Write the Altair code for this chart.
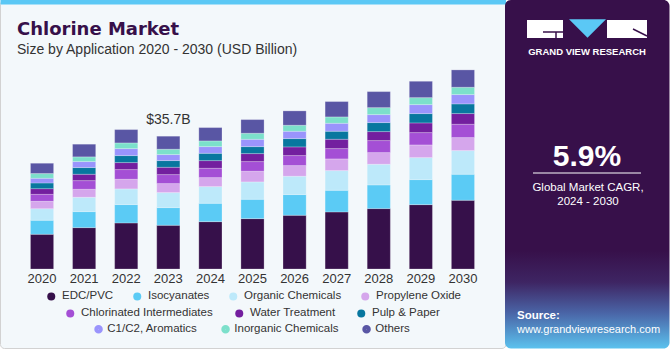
import altair as alt
import pandas as pd

# ---------------- data ----------------
years = ["2020", "2021", "2022", "2023", "2024", "2025", "2026", "2027", "2028", "2029", "2030"]
categories = ["EDC/PVC", "Isocyanates", "Organic Chemicals", "Propylene Oxide",
              "Chlorinated Intermediates", "Water Treatment", "Pulp & Paper",
              "C1/C2, Aromatics", "Inorganic Chemicals", "Others"]
colors = ["#36104A", "#5BCBF5", "#BDE9FA", "#D5A6EC", "#A44FD5",
          "#731F9F", "#08779F", "#9A94FC", "#7CE0CB", "#5956A4"]

edc_pvc = [9.33, 11.13, 12.39, 11.76, 12.74, 13.55, 14.45, 15.35, 16.25, 17.32, 18.49]
isocyanates = [3.77, 4.31, 4.94, 4.76, 4.94, 5.21, 5.57, 5.83, 6.37, 6.73, 7.00]
organic = [3.14, 3.86, 4.22, 4.04, 4.49, 4.67, 4.94, 5.30, 5.56, 5.92, 6.37]
propylene = [1.97, 2.15, 2.60, 2.42, 2.42, 2.87, 2.87, 3.14, 3.14, 3.41, 3.50]
chlorinated = [1.88, 2.33, 2.60, 2.42, 2.51, 2.60, 2.69, 2.78, 3.23, 3.32, 3.59]
water = [1.53, 1.71, 1.88, 1.97, 2.06, 2.15, 2.33, 2.51, 2.42, 2.60, 2.87]
pulp = [1.53, 1.80, 1.88, 1.80, 1.97, 1.88, 2.24, 2.15, 2.42, 2.51, 2.60]
c1c2 = [1.26, 1.62, 1.88, 1.62, 1.80, 1.97, 1.97, 2.15, 2.15, 2.42, 2.51]
inorganic = [1.26, 1.26, 1.53, 1.44, 1.53, 1.62, 1.62, 1.71, 1.88, 1.88, 1.97]
others = [2.78, 3.41, 3.59, 3.50, 3.59, 3.68, 3.86, 4.13, 4.31, 4.40, 4.67]

series = [edc_pvc, isocyanates, organic, propylene, chlorinated, water, pulp, c1c2, inorganic, others]

label_year = "2023"
label_value = 35.7
label_text = "$35.7B"

legend_row1 = categories[0:4]
legend_row2 = categories[4:7]
legend_row3 = categories[7:10]

rows = []
for i, (cat, vals) in enumerate(zip(categories, series)):
    for y, v in zip(years, vals):
        rows.append({"year": y, "cat": cat, "cat2": cat, "cat3": cat, "value": v, "idx": i})
df = pd.DataFrame(rows)
label_df = pd.DataFrame({"year": [label_year], "total": [label_value], "label": [label_text]})
one = pd.DataFrame({"k": [0]})

# ---------------- layout helpers ----------------
OX, OY = 21, 46          # plot origin in page pixels
W, H = 463, 223
FONT = "Liberation Sans"


def px(x):
    return alt.value(x - OX)


def py(y):
    return alt.value(y - OY)


def rect(x1, y1, x2, y2, **kw):
    return alt.Chart(one).mark_rect(**kw).encode(x=px(x1), x2=px(x2), y=py(y1), y2=py(y2))


def txt(s, x, y, size, color, weight="normal", align="left", font=FONT):
    return alt.Chart(one).mark_text(text=s, fontSize=size, color=color, fontWeight=weight,
                                    align=align, baseline="alphabetic", font=font
                                    ).encode(x=px(x), y=py(y))


def rule(x1, y1, x2, y2, color, width=1):
    return alt.Chart(one).mark_rule(color=color, strokeWidth=width).encode(
        x=px(x1), x2=px(x2), y=py(y1), y2=py(y2))


cscale = alt.Scale(domain=categories, range=colors)
leg_common = dict(orient="none", direction="horizontal", title=None, symbolType="circle",
                  labelFont=FONT, labelFontSize=11.5, labelColor="#333333", padding=0)

# ---------------- background decorations ----------------
left_panel = rect(0.5, 0.5, 506, 348.5, fill="#F3F8FB", stroke="#D2D2D2", strokeWidth=1, cornerRadius=4)
top_strip = rect(0.5, 0, 506, 4.5, fill="#5BC8F5")
right_panel = rect(505, 0, 669.5, 348.5, cornerRadius=6, fill=alt.Gradient(
    gradient="linear", x1=0, y1=0, x2=0, y2=1,
    stops=[alt.GradientStop(offset=0, color="#37104A"),
           alt.GradientStop(offset=0.72, color="#37104A"),
           alt.GradientStop(offset=0.81, color="#3E2563"),
           alt.GradientStop(offset=0.9, color="#4A66A8"),
           alt.GradientStop(offset=1, color="#5BC2EE")]))

# logo
logo_g = rect(527, 20, 563, 38, fill="white")
logo_r = rect(607, 20, 647, 38, fill="white")
logo_g_notch1 = rule(543, 32, 563, 32, "#37104A", 1.5)
logo_g_notch2 = rule(556, 32, 556, 38, "#37104A", 1.5)
logo_r_diag = rule(633, 29, 647, 36, "#37104A", 1.5)
logo_tri = alt.Chart(one).mark_point(shape="M-1,-0.5L1,-0.5L0,0.5Z", filled=True, size=1369,
                                     color="#5BC8F5", opacity=1).encode(x=px(587.5), y=py(28.5))
logo_text = txt("GRAND VIEW RESEARCH", 587, 55, 9.5, "white", "bold", "center")

cagr = txt("5.9%", 587, 166, 30, "white", "bold", "center")
cagr_rule = rule(533, 173, 641, 173, "white", 1)
cagr_t1 = txt("Global Market CAGR,", 588, 191, 11.5, "white", "normal", "center")
cagr_t2 = txt("2024 - 2030", 588, 205, 11.5, "white", "normal", "center")
src1 = txt("Source:", 517, 319, 11.5, "white", "bold")
src2 = txt("www.grandviewresearch.com", 517, 333, 11, "white")

title = txt("Chlorine Market", 17, 35, 18, "#37104A", "bold", font="DejaVu Sans")
subtitle = txt("Size by Application 2020 - 2030 (USD Billion)", 17, 54, 14, "#333333")

# ---------------- bars ----------------
xenc = alt.X("year:O", sort=years, title=None,
             scale=alt.Scale(paddingInner=0.45, paddingOuter=0.225),
             axis=alt.Axis(labelAngle=0, domain=False, ticks=False, grid=False, zindex=1,
                           labelFont=FONT, labelFontSize=13, labelColor="#333333", labelPadding=3))
yenc_scale = alt.Scale(domain=[0, 60])

bars = alt.Chart(df).mark_bar(stroke="white", strokeWidth=0.6, strokeOpacity=0.4).encode(
    x=xenc,
    y=alt.Y("value:Q", stack="zero", scale=yenc_scale, axis=None),
    color=alt.Color("cat:N", scale=cscale, title="Row 1",
                    legend=alt.Legend(values=legend_row1, legendX=24.5, legendY=244.3,
                                      symbolSize=64, symbolStrokeWidth=0,
                                      columnPadding=18, labelOffset=5, **leg_common)),
    order=alt.Order("idx:Q", sort="ascending"),
)

leg2 = alt.Chart(df).transform_filter("false").mark_circle(opacity=1).encode(
    fill=alt.Fill("cat2:N", scale=cscale, title="Row 2",
                  legend=alt.Legend(values=legend_row2, legendX=43.5, legendY=261.3,
                                    symbolSize=64, symbolStrokeWidth=0,
                                    columnPadding=20, labelOffset=5, **leg_common)))

leg3 = alt.Chart(df).transform_filter("false").mark_point(opacity=1, filled=False).encode(
    stroke=alt.Stroke("cat3:N", scale=cscale, title="Row 3",
                      legend=alt.Legend(values=legend_row3, legendX=71.8, legendY=277.3,
                                        symbolSize=16, symbolStrokeWidth=4.5,
                                        columnPadding=16, labelOffset=3, **leg_common)))

total_label = alt.Chart(label_df).mark_text(fontSize=14, color="#333333", font=FONT,
                                            baseline="alphabetic", dy=-12.5).encode(
    x=alt.X("year:O", sort=years),
    y=alt.Y("total:Q", scale=yenc_scale),
    text="label:N",
)

chart = alt.layer(
    left_panel, top_strip, right_panel,
    logo_g, logo_r, logo_g_notch1, logo_g_notch2, logo_r_diag, logo_tri, logo_text,
    cagr, cagr_rule, cagr_t1, cagr_t2, src1, src2, title, subtitle,
    bars, leg2, leg3, total_label,
).resolve_legend(color="independent", fill="independent", stroke="independent").properties(
    width=W, height=H,
    padding={"left": OX, "top": OY, "right": 670 - OX - W, "bottom": 350 - OY - H},
    autosize="none", background="white",
).configure_view(stroke=None)

chart.save("out.html", embed_options={"renderer": "svg", "actions": False})
